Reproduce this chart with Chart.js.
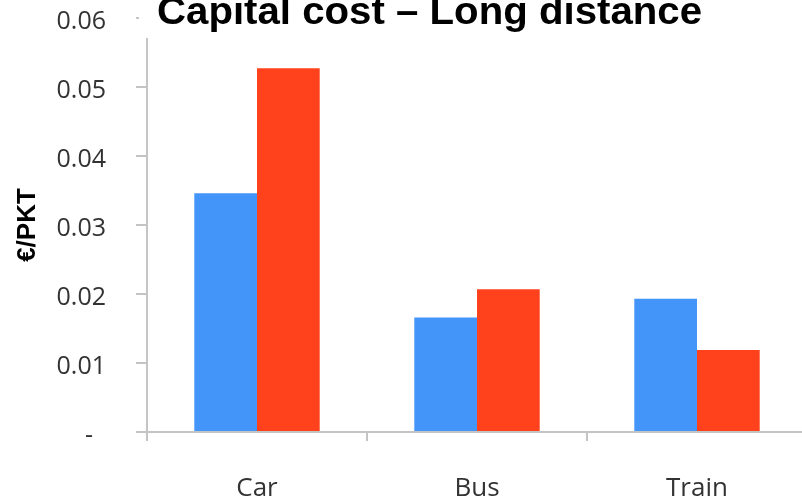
<!DOCTYPE html>
<html>
<head>
<meta charset="utf-8">
<script src="https://cdn.jsdelivr.net/npm/chart.js@4/dist/chart.umd.min.js"></script>
<style>
  html, body { margin: 0; padding: 0; background: #fff; overflow: hidden; }
  #wrap { position: relative; width: 807px; height: 503px; }
</style>
</head>
<body>
<div id="wrap"><canvas id="myChart"></canvas></div>
<script>
const categories = ['Car', 'Bus', 'Train'];
const seriesBlue = [0.0346, 0.0166, 0.0193];
const seriesRed = [0.0527, 0.0207, 0.0119];
const yTickLabels = ['-  ', '0.01', '0.02', '0.03', '0.04', '0.05', '0.06'];
const chartTitle = 'Capital cost \u2013 Long distance';
const yTitle = '\u20AC/PKT';

const axisGrey = '#c4c4c4';

// title and y label are drawn by hand, the title is cut off at the top
const extraText = {
    id: 'extraText',
    afterDraw(chart) {
        const ctx = chart.ctx;
        ctx.save();
        ctx.fillStyle = '#fff';
        ctx.fillRect(139, 0, 575, 38);
        ctx.fillStyle = '#000';
        ctx.font = 'bold 38px "Liberation Sans"';
        ctx.textBaseline = 'alphabetic';
        ctx.textAlign = 'left';
        const w = ctx.measureText(chartTitle).width;
        ctx.translate(157, 24);
        ctx.scale(545 / w, 1);
        ctx.fillText(chartTitle, 0, 0);
        ctx.restore();

        ctx.save();
        ctx.fillStyle = '#000';
        ctx.font = 'bold 26px "Liberation Sans"';
        ctx.textAlign = 'center';
        ctx.textBaseline = 'alphabetic';
        ctx.translate(35, 225);
        ctx.rotate(-Math.PI / 2);
        ctx.fillText(yTitle, 0, 0);
        ctx.restore();
    }
};

const data = {
    labels: categories,
    datasets: [{
        label: 'Series 1',
        data: seriesBlue,
        backgroundColor: 'rgb(67, 149, 249)',
        borderWidth: 0
    }, {
        label: 'Series 2',
        data: seriesRed,
        backgroundColor: 'rgb(255, 65, 28)',
        borderWidth: 0
    }]
};

const config = {
    type: 'bar',
    data: data,
    options: {
        responsive: true,
        maintainAspectRatio: false,
        animation: false,
        layout: { padding: { top: 18, left: 0, right: 0, bottom: 0 } },
        datasets: {
            bar: { categoryPercentage: 0.57, barPercentage: 1.0 }
        },
        plugins: {
            legend: { display: false },
            tooltip: { enabled: false }
        },
        scales: {
            x: {
                offset: true,
                grid: {
                    offset: true,
                    drawOnChartArea: false,
                    drawTicks: true,
                    tickLength: 9,
                    color: axisGrey,
                    lineWidth: 2
                },
                border: { color: axisGrey, width: 2 },
                ticks: {
                    padding: 32,
                    color: '#333',
                    font: { family: '"Open Sans"', size: 26 }
                },
                afterFit(scale) { scale.height = 71; }
            },
            y: {
                min: 0,
                max: 0.06,
                grid: {
                    drawOnChartArea: false,
                    drawTicks: true,
                    tickLength: 11,
                    color: axisGrey,
                    lineWidth: 2
                },
                border: { color: axisGrey, width: 2 },
                ticks: {
                    stepSize: 0.01,
                    padding: 30,
                    labelOffset: 4,
                    color: '#333',
                    font: { family: '"Open Sans"', size: 25 },
                    callback: (v, i) => yTickLabels[i]
                },
                afterFit(scale) {
                    scale.width = 147;
                    scale.paddingTop = 0;
                    scale.paddingBottom = 0;
                }
            }
        }
    },
    plugins: [extraText]
};

const myChart = new Chart(document.getElementById('myChart'), config);
</script>
</body>
</html>
